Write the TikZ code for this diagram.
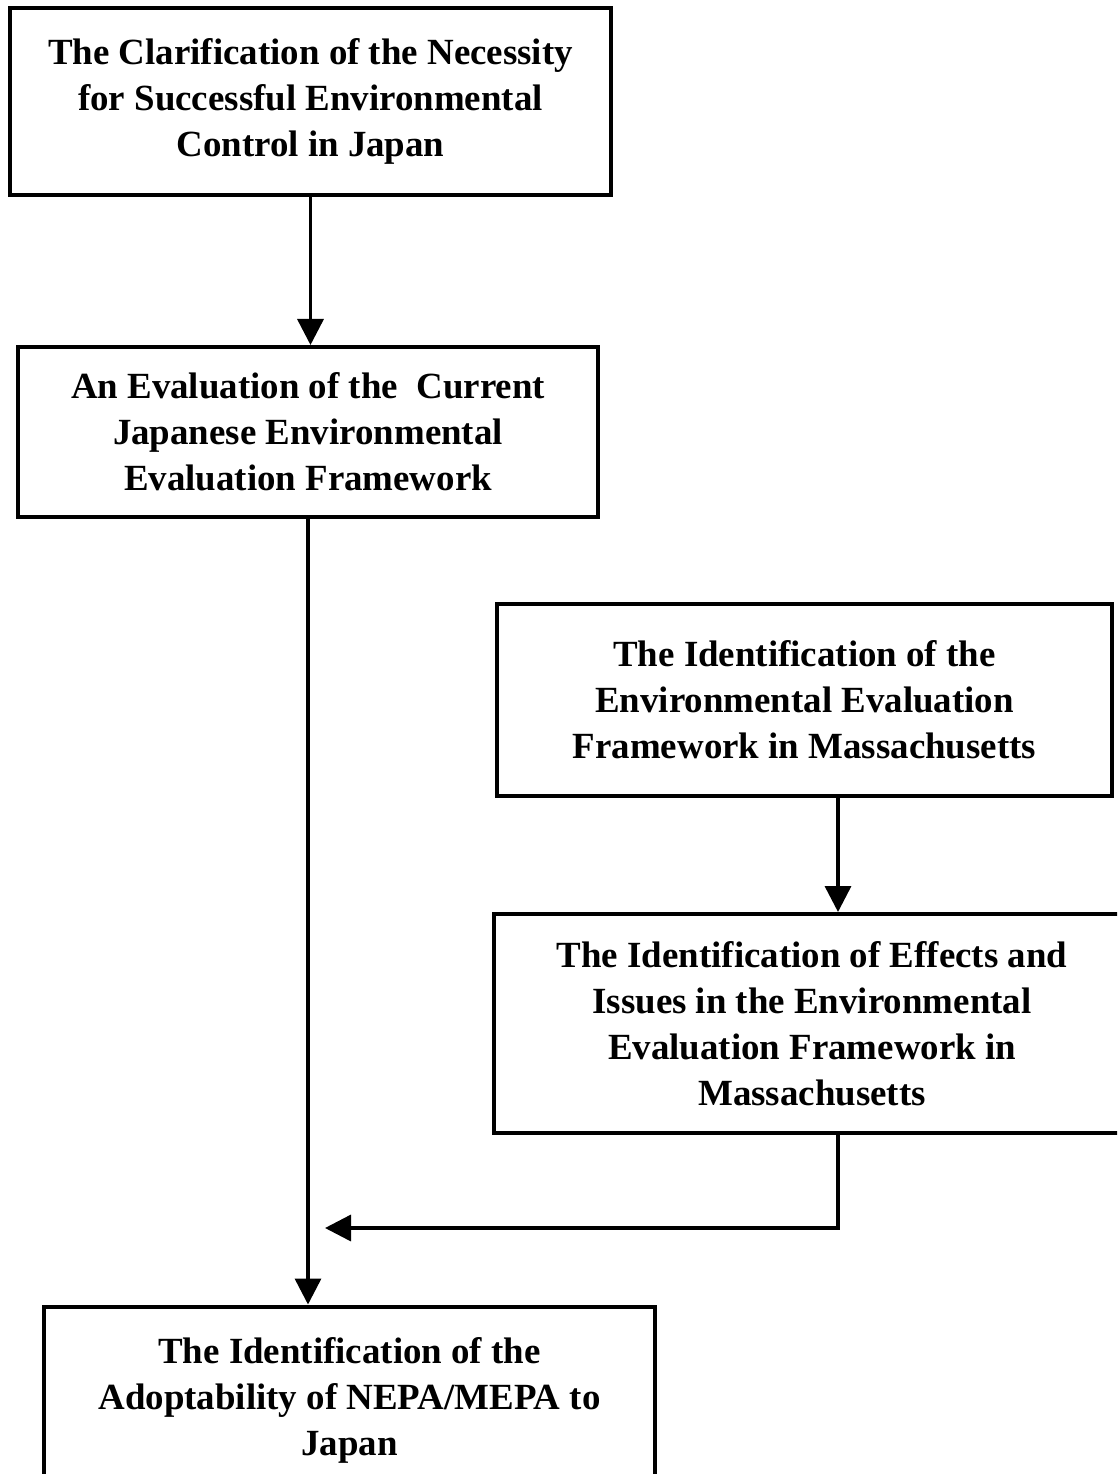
\documentclass[tikz,border=0pt]{standalone}
\usepackage{fontspec}
\setmainfont{Liberation Serif}
\usepackage{tikz}
\usetikzlibrary{arrows.meta, positioning}

\tikzset{
    stage/.style={draw, line width=0.08cm, align=center, inner sep=0pt,
        font=\bfseries\fontsize{21}{26.2}\selectfont},
    flow/.style={line width=0.07cm, -{Triangle[length=0.52cm, width=0.52cm]}}
}

\begin{document}
\begin{tikzpicture}
        \useasboundingbox (0,0) rectangle (22.34,-29.48);
        \clip (0,0) rectangle (22.34,-29.48);

        %箱
        \node[stage, minimum width=12.02cm, minimum height=3.74cm] (necessity) at (6.21,-2.03)
            {The Clarification of the Necessity\\for Successful Environmental\\Control in Japan};
        \node[stage, minimum width=11.6cm, minimum height=3.4cm] (japan) at (6.16,-8.64)
            {An Evaluation of the\ \ Current\\Japanese Environmental\\Evaluation Framework};
        \node[stage, minimum width=12.3cm, minimum height=3.84cm] (mass) at (16.09,-14.0)
            {The Identification of the\\Environmental Evaluation\\Framework in Massachusetts};
        \node[stage, minimum width=12.72cm, minimum height=4.38cm] (issues) at (16.24,-20.47)
            {The Identification of Effects and\\Issues in the Environmental\\Evaluation Framework in\\Massachusetts};
        \node[stage, minimum width=12.22cm, minimum height=3.74cm] (adopt) at (6.99,-28.0)
            {The Identification of the\\Adoptability of NEPA/MEPA to\\Japan};

        \coordinate (right) at (16.76,0); %右の縦線
        \coordinate (join) at (6.5,-24.56); %合流点

        %矢印
        \draw[flow] (necessity.south) -- (necessity.south |- japan.north);
        \draw[flow] (japan.south) -- (japan.south |- adopt.north);
        \draw[flow] (mass.south -| right) -- (issues.north -| right);
        \draw[flow] (issues.south -| right) |- (join);
    \end{tikzpicture}
\end{document}
